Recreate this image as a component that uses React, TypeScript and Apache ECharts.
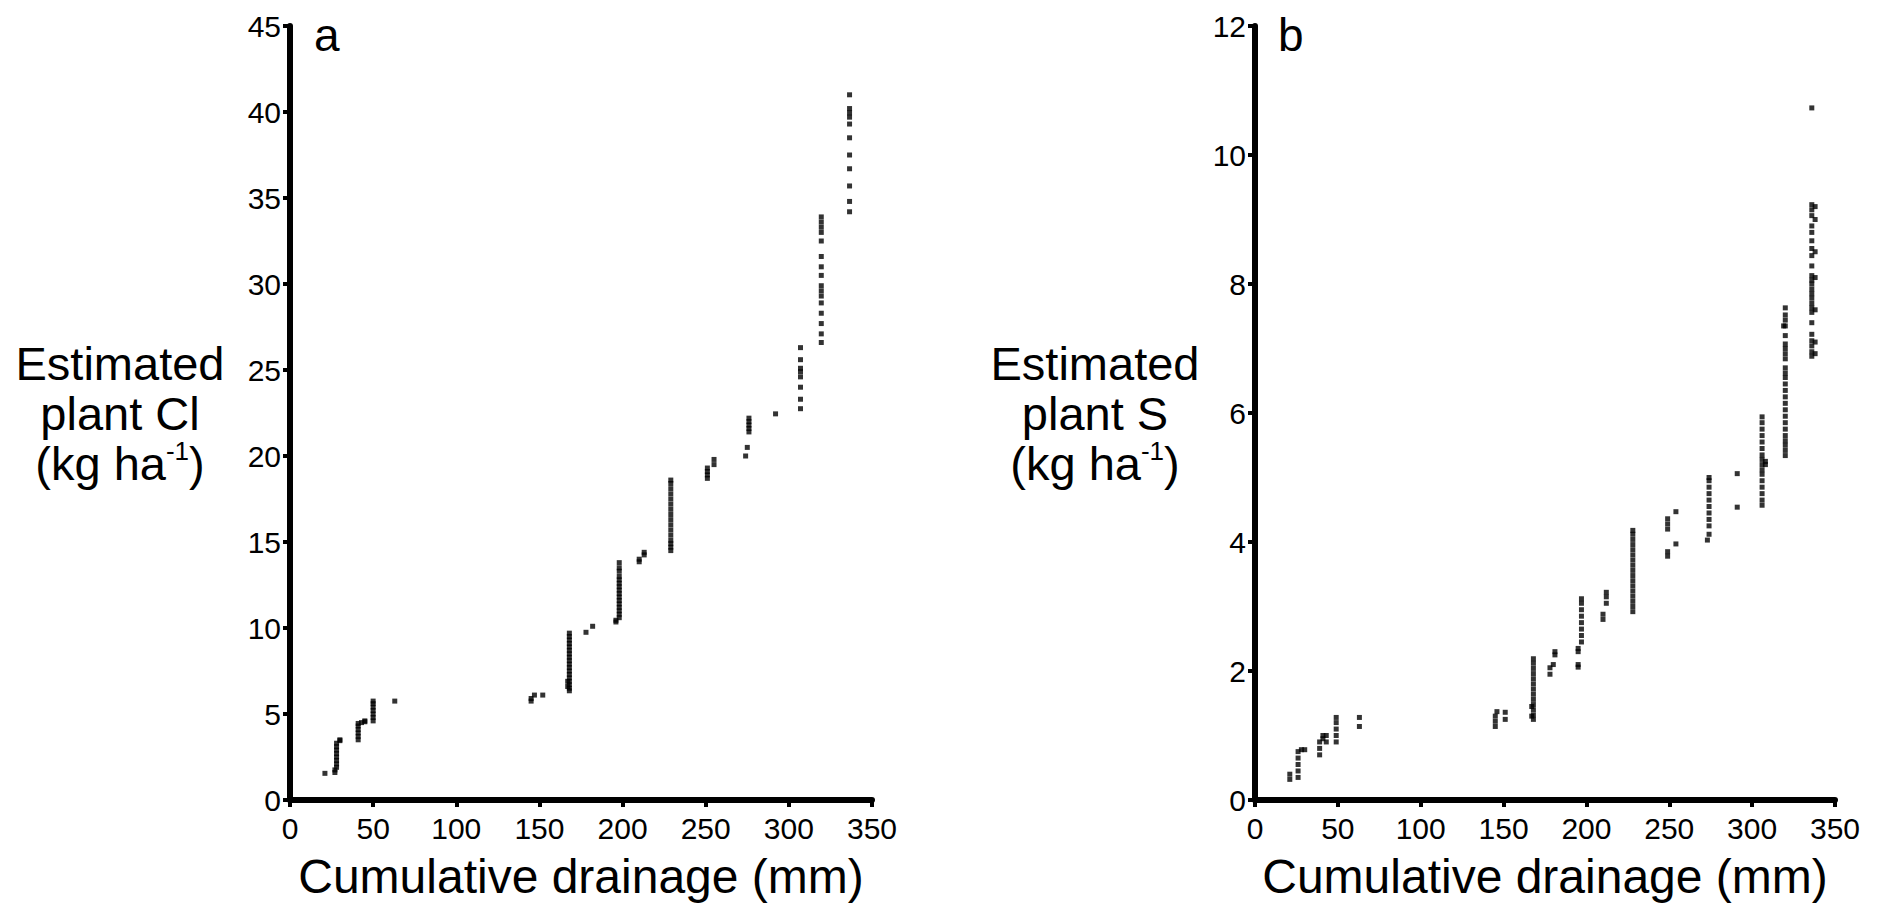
import React, { useEffect, useRef } from "react";
import * as echarts from "echarts";

// ---- Panel a: estimated plant Cl (kg/ha) vs cumulative drainage (mm)
const CL_X = [
  21, 27, 27, 28, 28, 28, 28, 28, 28, 28, 28, 30, 30,
  41, 41, 41, 41, 41, 41, 43, 45, 45,
  50, 50, 50, 50, 50, 50, 50, 63,
  145, 145, 147, 152,
  168, 168, 168, 168, 168, 168, 168, 168, 168, 168, 168, 168, 168, 168, 168, 168, 168, 168, 167, 167,
  178, 182,
  196, 196, 198, 198, 198, 198, 198, 198, 198, 198, 198, 198, 198, 198, 198, 198, 198, 198,
  210, 210, 213, 213,
  229, 229, 229, 229, 229, 229, 229, 229, 229, 229, 229, 229, 229, 229, 229, 229,
  251, 251, 251, 251, 255, 255,
  274, 275, 276, 276, 276, 276, 276,
  292,
  307, 307, 307, 307, 307, 307, 307, 307,
  319.5, 319.5, 319.5, 319.5, 319.5, 319.5, 319.5, 319.5, 319.5, 319.5, 319.5, 319.5, 319.5, 319.5, 319.5, 319.5,
  336.5, 336.5, 336.5, 336.5, 336.5, 336.5, 336.5, 336.5, 336.5, 336.5, 336.5,
];
const CL_Y = [
  1.55, 1.6, 1.75, 1.9, 2.1, 2.3, 2.5, 2.7, 2.9, 3.1, 3.3, 3.45, 3.5,
  3.5, 3.7, 3.9, 4.1, 4.3, 4.45, 4.5, 4.55, 4.6,
  4.6, 4.8, 5.0, 5.2, 5.4, 5.6, 5.75, 5.75,
  5.75, 5.9, 6.1, 6.1,
  6.35, 6.5, 6.7, 6.9, 7.1, 7.3, 7.5, 7.7, 7.9, 8.1, 8.3, 8.5, 8.7, 8.9, 9.1, 9.3, 9.5, 9.7, 6.6, 6.9,
  9.75, 10.1,
  10.35, 10.45, 10.6, 10.8, 11.0, 11.2, 11.4, 11.6, 11.8, 12.0, 12.2, 12.4, 12.6, 12.8, 13.0, 13.3, 13.5, 13.8,
  13.85, 14.0, 14.25, 14.4,
  14.5, 14.7, 14.9, 15.1, 15.4, 15.7, 16.0, 16.3, 16.6, 16.9, 17.2, 17.5, 17.8, 18.1, 18.4, 18.6,
  18.7, 18.9, 19.1, 19.3, 19.5, 19.8,
  20.0, 20.5, 21.4, 21.6, 21.8, 22.0, 22.2,
  22.45,
  22.75, 23.3, 24.0, 24.6, 24.9, 25.1, 25.6, 26.3,
  26.6, 27.1, 27.7, 28.3, 28.9, 29.3, 29.6, 29.9, 30.5, 31.0, 31.6, 32.5, 33.0, 33.3, 33.6, 33.9,
  34.2, 34.8, 35.7, 36.7, 37.5, 38.5, 39.3, 39.7, 39.95, 40.2, 41.0,
];

// ---- Panel b: estimated plant S (kg/ha) vs cumulative drainage (mm)
const S_X = [
  21, 21, 26, 26, 26, 26, 26, 28, 30,
  39, 39, 39, 41, 41, 43, 43,
  49, 49, 49, 49, 49, 63, 63,
  145, 145, 145, 146, 151, 151,
  168, 168, 168, 168, 168, 168, 168, 168, 168, 168, 168, 168, 168, 167, 167,
  178, 178, 180, 181, 181,
  195, 195, 195, 195, 197, 197, 197, 197, 197, 197, 197, 197,
  210, 210, 212, 212, 212,
  228, 228, 228, 228, 228, 228, 228, 228, 228, 228, 228, 228, 228, 228, 228, 228, 228,
  249, 249, 254, 249, 249, 249, 254,
  273, 274, 274, 274, 274, 274, 274, 274, 274, 274, 274,
  291, 291,
  306, 306, 306, 306, 306, 306, 306, 306, 306, 306, 306, 306, 306, 306, 306, 306, 308, 308,
  320, 320, 320, 320, 320, 320, 320, 320, 320, 320, 320, 320, 320, 320, 320, 320, 320, 320, 320, 320, 320, 320, 320, 320, 320, 319,
  336, 336, 336, 336, 336, 336, 336, 336, 336, 336, 336, 336, 336, 336, 336, 336, 336, 336, 336, 336, 336, 336, 336, 336, 336,
  338, 338, 338, 338, 338, 338, 338,
];
const S_Y = [
  0.32, 0.4, 0.35, 0.45, 0.55, 0.65, 0.75, 0.78, 0.78,
  0.7, 0.8, 0.9, 0.95, 1.0, 1.0, 0.9,
  0.9, 1.0, 1.1, 1.2, 1.28, 1.14, 1.28,
  1.14, 1.22, 1.3, 1.37, 1.25, 1.36,
  1.25, 1.32, 1.4, 1.48, 1.56, 1.64, 1.72, 1.8, 1.88, 1.96, 2.04, 2.12, 2.19, 1.3, 1.45,
  1.95, 2.05, 2.1, 2.25, 2.3,
  2.06, 2.1, 2.3, 2.35, 2.45, 2.55, 2.65, 2.75, 2.85, 2.95, 3.05, 3.12,
  2.8, 2.88, 3.05, 3.15, 3.22,
  2.92, 3.0, 3.08, 3.16, 3.24, 3.32, 3.4, 3.48, 3.56, 3.64, 3.72, 3.8, 3.88, 3.96, 4.04, 4.12, 4.18,
  3.78, 3.85, 3.97, 4.2, 4.28, 4.36, 4.47,
  4.03, 4.12, 4.25, 4.35, 4.45, 4.55, 4.65, 4.75, 4.85, 4.95, 5.0,
  4.54, 5.06,
  4.57, 4.65, 4.75, 4.85, 4.95, 5.05, 5.12, 5.2, 5.28, 5.35, 5.45, 5.55, 5.65, 5.75, 5.85, 5.94, 5.2, 5.25,
  5.34, 5.42, 5.5, 5.57, 5.65, 5.75, 5.85, 5.95, 6.05, 6.15, 6.25, 6.35, 6.45, 6.55, 6.62, 6.7, 6.84, 6.92, 7.0, 7.07, 7.2, 7.35, 7.44, 7.52, 7.63, 7.35,
  6.88, 6.95, 7.04, 7.12, 7.22, 7.4, 7.56, 7.63, 7.7, 7.78, 7.85, 7.92, 8.0, 8.06, 8.13, 8.28, 8.44, 8.55, 8.67, 8.8, 8.9, 9.06, 9.15, 9.23, 10.73,
  6.92, 7.1, 7.6, 8.1, 8.5, 9.0, 9.2,
];

const X_TICKS = { min: 0, max: 350, interval: 50 };
const CL_TICKS = { min: 0, max: 45, interval: 5 };
const S_TICKS = { min: 0, max: 12, interval: 2 };
const X_TITLE = "Cumulative drainage (mm)";
const CL_TITLE = "Estimated\nplant Cl\n(kg ha{sup|-1})";
const S_TITLE = "Estimated\nplant S\n(kg ha{sup|-1})";

const INK = "#000000";
const FONT = "'Liberation Sans', Arial, Helvetica, sans-serif";

function zip(xs: number[], ys: number[]) {
  return xs.map((x, i) => [x, ys[i]]);
}

function xAxis(gridIndex: number) {
  return {
    type: "value",
    gridIndex,
    ...X_TICKS,
    name: X_TITLE,
    nameLocation: "middle",
    nameGap: 52,
    nameTextStyle: { fontSize: 48, color: INK, fontFamily: FONT },
    axisLine: { show: true, onZero: false, lineStyle: { color: INK, width: 6 } },
    axisTick: { show: true, length: 7, lineStyle: { color: INK, width: 4 } },
    axisLabel: { fontSize: 30, color: INK, fontFamily: FONT, margin: 13 },
    splitLine: { show: false },
  };
}

function yAxis(gridIndex: number, ticks: any, title: string, gap: number) {
  return {
    type: "value",
    gridIndex,
    ...ticks,
    name: title,
    nameLocation: "middle",
    nameRotate: 0,
    nameGap: gap,
    nameTextStyle: {
      fontSize: 47,
      color: INK,
      fontFamily: FONT,
      align: "center",
      verticalAlign: "middle",
      lineHeight: 50,
      rich: {
        sup: { fontSize: 26, color: INK, fontFamily: FONT, verticalAlign: "top", lineHeight: 26 },
      },
    },
    axisLine: { show: true, onZero: false, lineStyle: { color: INK, width: 6 } },
    axisTick: { show: true, length: 7, lineStyle: { color: INK, width: 4 } },
    axisLabel: { fontSize: 30, color: INK, fontFamily: FONT, margin: 9 },
    splitLine: { show: false },
  };
}

export default function App() {
  const ref = useRef<HTMLDivElement>(null);
  useEffect(() => {
    document.body.style.margin = "0";
    const chart = echarts.init(ref.current!, undefined, { renderer: "svg" });
    chart.setOption({
      animation: false,
      backgroundColor: "#ffffff",
      grid: [
        { left: 290, top: 26, width: 582, height: 774, outerBoundsMode: "none" },
        { left: 1255, top: 26, width: 580, height: 774, outerBoundsMode: "none" },
      ],
      xAxis: [xAxis(0), xAxis(1)],
      yAxis: [yAxis(0, CL_TICKS, CL_TITLE, 170), yAxis(1, S_TICKS, S_TITLE, 160)],
      graphic: [
        { type: "text", left: 314, top: 12, style: { text: "a", fontSize: 46, fill: INK, fontFamily: FONT } },
        { type: "text", left: 1278, top: 12, style: { text: "b", fontSize: 46, fill: INK, fontFamily: FONT } },
      ],
      series: [
        {
          type: "scatter",
          xAxisIndex: 0,
          yAxisIndex: 0,
          symbol: "rect",
          symbolSize: 5,
          itemStyle: { color: INK },
          data: zip(CL_X, CL_Y),
        },
        {
          type: "scatter",
          xAxisIndex: 1,
          yAxisIndex: 1,
          symbol: "rect",
          symbolSize: 5,
          itemStyle: { color: INK },
          data: zip(S_X, S_Y),
        },
      ],
    });
    return () => chart.dispose();
  }, []);
  return <div ref={ref} style={{ width: 1878, height: 908 }} />;
}
